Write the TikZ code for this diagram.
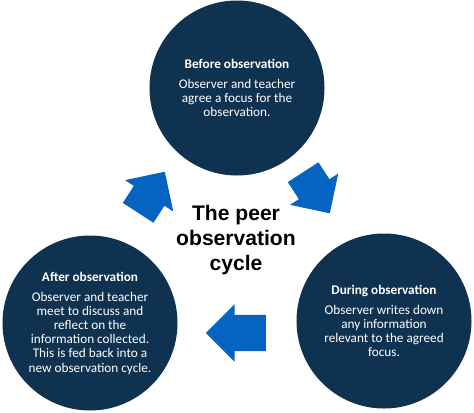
\documentclass[tikz,border=0pt]{standalone}
\usepackage{fontspec}
\setmainfont{Carlito}
\newfontfamily\titlefont{Liberation Sans}
\usetikzlibrary{shapes.arrows}
\definecolor{stagenavy}{HTML}{0F3250}
\definecolor{cycleblue}{HTML}{0563C1}

\begin{document}
\begin{tikzpicture}[
    x=0.03cm, y=-0.03cm,
    every node/.style={align=center},
    stage/.style={circle, fill=stagenavy, text=white, minimum size=5.25cm, inner sep=0pt, font={\fontsize{11.3}{12.1}\selectfont}},
    turn/.style={single arrow, fill=cycleblue, anchor=tail, inner xsep=0pt, inner ysep=0.54cm, minimum width=1.71cm, single arrow head extend=0.315cm, single arrow tip angle=90}
]
\useasboundingbox (0,0) rectangle (474,412);
\node[stage] (before) at (237,88) {\textbf{Before observation}\\[5pt]Observer and teacher\\agree a focus for the\\observation.};
\node[stage] (during) at (384,321) {\textbf{During observation}\\[5pt]Observer writes down\\any information\\relevant to the agreed\\focus.};
\node[stage] (after) at (90,323) {\textbf{After observation}\\[5pt]Observer and teacher\\meet to discuss and\\reflect on the\\information collected.\\This is fed back into a\\new observation cycle.};
\node[font={\titlefont\bfseries\fontsize{18}{21.3}\selectfont}] (title) at (236,240) {The peer\\observation\\cycle};
\node[turn, minimum height=1.8cm, rotate=180] (backarrow) at (266,333) {};
\node[turn, minimum height=1.47cm, rotate=57] (uparrow) at (138,213) {};
\node[turn, minimum height=1.47cm, rotate=-57] (downarrow) at (303,172) {};
\end{tikzpicture}
\end{document}
